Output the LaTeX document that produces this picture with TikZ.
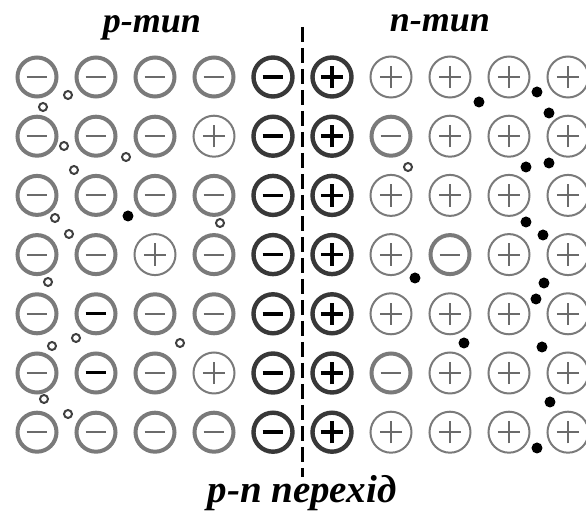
\documentclass[tikz,border=0pt]{standalone}
\usepackage{fontspec}
\setmainfont{Liberation Serif}

\definecolor{ringgray}{gray}{0.48}
\definecolor{signgray}{gray}{0.42}
\definecolor{edgedark}{gray}{0.22}

\begin{document}
\begin{tikzpicture}[
    x=0.5pt,
    y=-0.5pt
]

\tikzset{
    neg sign/.style 2 args={path picture={
        \draw[#2, line width=#1] ([xshift=-5.2pt]path picture bounding box.center)
            -- ([xshift=5.2pt]path picture bounding box.center);}},
    pos sign/.style 2 args={path picture={
        \draw[#2, line width=#1] ([xshift=-5.6pt]path picture bounding box.center)
            -- ([xshift=5.6pt]path picture bounding box.center);
        \draw[#2, line width=#1] ([yshift=-5.6pt]path picture bounding box.center)
            -- ([yshift=5.6pt]path picture bounding box.center);}},
    ion/.style={circle, inner sep=0pt, minimum size=19.5pt, line width=2pt, draw=ringgray},
    % acceptors and donors
    ion n/.style={ion, neg sign={1pt}{signgray}},
    ion N/.style={ion, neg sign={1.5pt}{black}},
    ion p/.style={ion, line width=1pt, minimum size=20.5pt, pos sign={1pt}{signgray}},
    % ions at the junction
    ion B/.style={ion, line width=2.2pt, draw=edgedark, neg sign={1.8pt}{black}},
    ion P/.style={ion, line width=2.2pt, draw=edgedark, pos sign={1.8pt}{black}},
    hole/.style={circle, inner sep=0pt, minimum size=4pt, line width=1pt, draw=black!75},
    electron/.style={circle, inner sep=0pt, minimum size=5.5pt, fill=black},
    heading/.style={font=\bfseries\itshape\fontsize{18}{21}\selectfont, anchor=base, inner sep=0pt}
}

\useasboundingbox (0,0) rectangle (586,513);

% lattice
\foreach \row [count=\j] in {
    {n,n,n,n,B,P,p,p,p,p},
    {n,n,n,p,B,P,n,p,p,p},
    {n,n,n,n,B,P,p,p,p,p},
    {n,n,p,n,B,P,p,n,p,p},
    {n,N,n,n,B,P,p,p,p,p},
    {n,N,n,p,B,P,n,p,p,p},
    {n,n,n,n,B,P,p,p,p,p}} {
    \foreach \t [count=\i] in \row {
        \node[ion \t] (ion-\j-\i) at ({37+59*(\i-1)},{77+59.2*(\j-1)}) {};
    }
}

% holes
\foreach \x/\y [count=\k] in {68/95, 43/107, 64/146, 126/157, 74/170, 55/218,
    69/234, 220/223, 48/282, 52/346, 76/338, 180/343, 44/399, 68/414, 408/167}
    \node[hole] (h\k) at (\x,\y) {};

% electrons
\foreach \x/\y [count=\k] in {128/216, 479/102, 537/92, 549/113, 526/167, 549/163,
    526/222, 543/235, 415/278, 544/283, 536/299, 464/343, 542/347, 550/402, 537/448}
    \node[electron] (e\k) at (\x,\y) {};

% junction
\coordinate (jtop) at (303,27);
\coordinate (jbot) at (303,477);
\draw[line width=1.5pt, dash pattern=on 7.5pt off 3pt] (jtop) -- (jbot);

\node[heading] (ptype) at (152,33) {p-тип};
\node[heading] (ntype) at (440,32) {n-тип};
\node[heading, font=\bfseries\itshape\fontsize{19.5}{22}\selectfont] (pn) at (302,503) {p-n перехід};

\end{tikzpicture}
\end{document}
